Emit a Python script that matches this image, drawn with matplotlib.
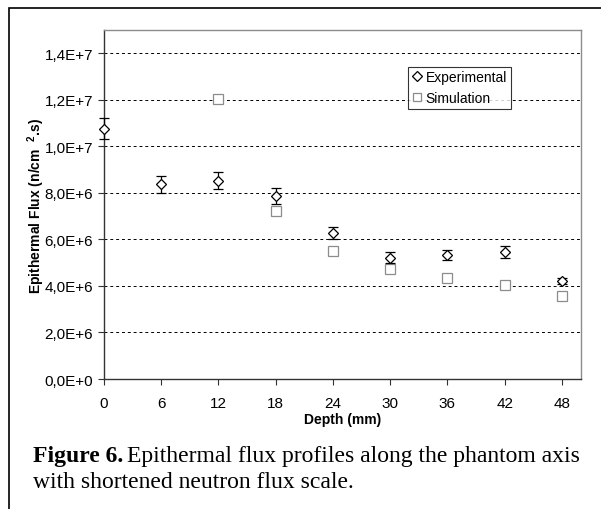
import matplotlib
matplotlib.use("Agg")
from matplotlib import pyplot as plt
from matplotlib.patches import Rectangle

# depth along the phantom axis (mm)
depth = [0, 6, 12, 18, 24, 30, 36, 42, 48]

# experimental epithermal flux and its error
exp_flux = [1.075e7, 8.37e6, 8.52e6, 7.87e6, 6.26e6, 5.22e6, 5.32e6, 5.45e6, 4.23e6]
exp_err = [4.5e5, 3.6e5, 3.6e5, 3.5e5, 2.6e5, 2.4e5, 2.2e5, 2.5e5, 1.3e5]

# simulated flux (no value at depth 0)
sim_depth = [12, 18, 24, 30, 36, 42, 48]
sim_flux = [1.205e7, 7.22e6, 5.48e6, 4.73e6, 4.32e6, 4.02e6, 3.57e6]

y_ticks = [0, 2e6, 4e6, 6e6, 8e6, 1e7, 1.2e7, 1.4e7]
y_tick_labels = ["0,0E+0", "2,0E+6", "4,0E+6", "6,0E+6", "8,0E+6",
                 "1,0E+7", "1,2E+7", "1,4E+7"]

plt.rcParams['font.family'] = ['Liberation Sans', 'DejaVu Sans']
plt.rcParams['mathtext.fontset'] = 'custom'
plt.rcParams['mathtext.rm'] = 'Liberation Sans'
plt.rcParams['mathtext.bf'] = 'Liberation Sans:bold'

W, H = 601, 510
fig = plt.figure(figsize=(W / 100, H / 100), dpi=100)

# outer frame of the figure box (only top and left visible)
fig.patches.append(Rectangle((9 / W, -0.1), 1.2, 1 - 9 / H + 0.1,
                             transform=fig.transFigure, fill=False,
                             edgecolor='black', linewidth=1.2))

ax = fig.add_axes([104 / W, 130 / H, 477 / W, 349 / H])

ax.errorbar(depth, exp_flux, yerr=exp_err, fmt='none',
            ecolor='black', elinewidth=0.9, capsize=3.5, capthick=0.9,
            zorder=4, clip_on=False)
ax.plot(depth, exp_flux, 'D', markersize=5.5, markerfacecolor='white',
        markeredgecolor='black', markeredgewidth=0.9, linestyle='none',
        label='Experimental', zorder=5, clip_on=False)
ax.plot(sim_depth, sim_flux, 's', markersize=6.5, markerfacecolor='white',
        markeredgecolor='#8c8c8c', markeredgewidth=0.9, linestyle='none',
        label='Simulation', zorder=3)

ax.set_xlim(0, 50)
ax.set_ylim(0, 1.5e7)
ax.set_xticks(depth)
ax.set_xticklabels([str(d) for d in depth], fontsize=11)
ax.set_yticks(y_ticks)
ax.set_yticklabels(y_tick_labels, fontsize=11)

ax.yaxis.grid(True, color='black', linestyle=(0, (3, 3)), linewidth=0.7)
ax.set_axisbelow(True)

for side in ['top', 'right']:
    ax.spines[side].set_color('#8c8c8c')
    ax.spines[side].set_linewidth(1.0)
for side in ['left', 'bottom']:
    ax.spines[side].set_color('#333333')
    ax.spines[side].set_linewidth(1.0)
ax.tick_params(axis='both', direction='out', length=4, width=0.8, color='#333333')
ax.tick_params(axis='y', pad=4)
ax.tick_params(axis='x', pad=8)

ax.set_xlabel('Depth (mm)', fontsize=10, fontweight='bold', labelpad=2)
ax.set_ylabel(r'Epithermal Flux (n/cm  $\mathbf{^{2}}$.s)', fontsize=10,
              fontweight='bold', labelpad=-2)

leg = ax.legend(loc='upper left', bbox_to_anchor=(0.638, 0.895), fontsize=10,
                frameon=True, fancybox=False, handlelength=0.7,
                handletextpad=0.3, borderpad=0.25, labelspacing=0.5,
                borderaxespad=0, markerscale=0.9)
leg.get_frame().set_edgecolor('black')
leg.get_frame().set_linewidth(0.8)

# caption under the chart
cap1 = fig.text(33 / W, 1 - 462 / H, 'Figure 6.', family='Liberation Serif',
                fontsize=17, fontweight='bold', va='baseline')
fig.canvas.draw()
bb = cap1.get_window_extent()
fig.text((bb.x1 + 4) / W, 1 - 462 / H,
         'Epithermal flux profiles along the phantom axis',
         family='Liberation Serif', fontsize=17, va='baseline')
fig.text(33 / W, 1 - 488 / H, 'with shortened neutron flux scale.',
         family='Liberation Serif', fontsize=17, va='baseline')

fig.savefig('out.png', dpi=100)
